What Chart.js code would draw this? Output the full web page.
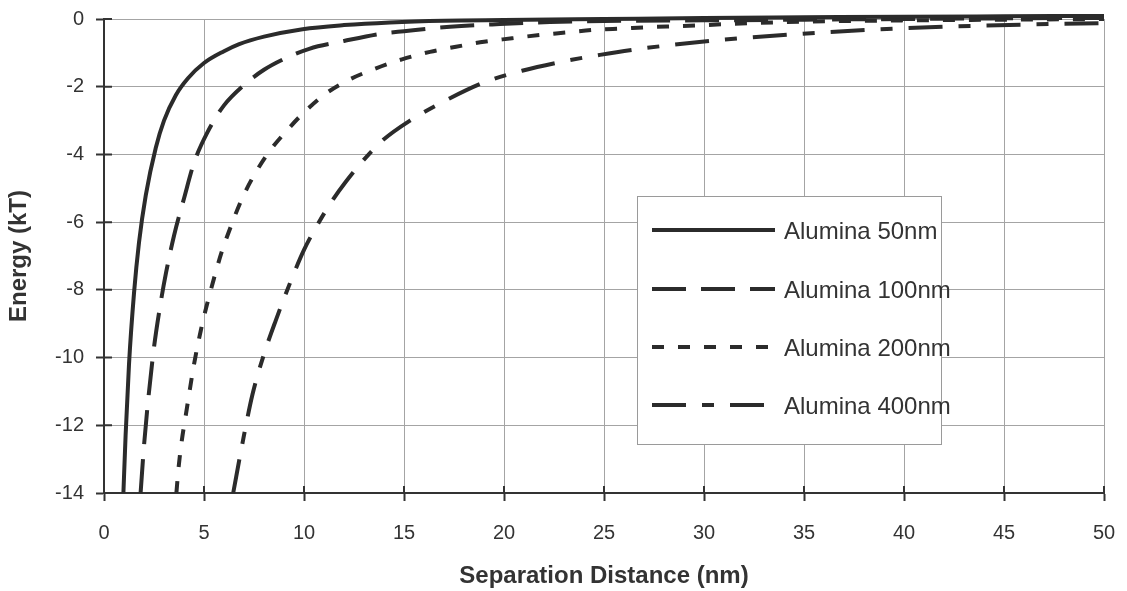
<!DOCTYPE html>
<html>
<head>
<meta charset="utf-8">
<script src="https://cdn.jsdelivr.net/npm/chart.js@4.4.1/dist/chart.umd.min.js"></script>
<style>
  html, body { margin: 0; padding: 0; background: #fff; }
  #wrap { width: 1127px; height: 591px; position: relative; }
</style>
</head>
<body>
<div id="wrap"><canvas id="chart_canvas"></canvas></div>
<script>
// valeurs
const xTicks = [0, 5, 10, 15, 20, 25, 30, 35, 40, 45, 50]
const yTicks = [0, -2, -4, -6, -8, -10, -12, -14]
const seriesNames = ['Alumina 50nm', 'Alumina 100nm', 'Alumina 200nm', 'Alumina 400nm']

const dist50 = [0.97, 1.08, 1.25, 1.5, 1.75, 2.09, 2.59, 3.0, 3.59, 4.2, 5.0, 6.0, 6.76, 8.0, 9.93, 12, 14.3, 17, 20, 25, 30, 35, 40, 45, 50]
const energy50 = [-14, -12.3, -10.2, -8.1, -6.6, -5.2, -3.8, -3.0, -2.25, -1.75, -1.3, -0.95, -0.74, -0.52, -0.3, -0.18, -0.1, -0.05, -0.03, 0, 0.03, 0.05, 0.07, 0.08, 0.09]

const dist100 = [1.83, 2.0, 2.2, 2.5, 2.8, 3.1, 3.5, 4.0, 4.5, 5.17, 6.0, 7.0, 8.0, 9.0, 10.26, 12.0, 13.9, 15, 17.3, 19.8, 22.3, 25, 30, 35, 40, 45, 50]
const energy100 = [-14, -12.6, -11.3, -9.7, -8.5, -7.5, -6.4, -5.3, -4.25, -3.35, -2.55, -1.95, -1.5, -1.18, -0.88, -0.65, -0.43, -0.36, -0.23, -0.15, -0.09, -0.06, -0.04, -0.02, 0, 0.02, 0.03]

const dist200 = [3.62, 3.72, 3.89, 4.09, 4.25, 4.5, 4.84, 5.12, 5.5, 5.89, 6.34, 6.84, 7.42, 8.26, 9.09, 9.93, 11.1, 12.3, 13.6, 14.9, 16.3, 17.6, 19.0, 20.4, 21.8, 23.1, 24.5, 25.9, 27.3, 28.7, 30, 32.3, 35, 40, 45, 50]
const energy200 = [-14, -13.3, -12.45, -11.7, -11.1, -10.2, -9.2, -8.5, -7.66, -6.87, -6.13, -5.39, -4.7, -3.92, -3.33, -2.8, -2.2, -1.78, -1.46, -1.19, -0.97, -0.82, -0.67, -0.57, -0.47, -0.4, -0.32, -0.28, -0.24, -0.21, -0.18, -0.12, -0.08, -0.04, -0.02, 0]

const dist400 = [6.46, 6.9, 7.42, 8.0, 8.59, 9.3, 10.0, 10.7, 11.43, 12.1, 12.9, 13.9, 15.3, 17.3, 19.1, 20.9, 22.9, 24.8, 26.8, 28.8, 30.8, 34.6, 38.6, 42.5, 46.5, 50]
const energy400 = [-14, -12.6, -11.1, -9.9, -8.9, -7.8, -6.82, -6.05, -5.35, -4.8, -4.22, -3.6, -3.0, -2.34, -1.85, -1.53, -1.26, -1.06, -0.88, -0.74, -0.62, -0.45, -0.31, -0.22, -0.16, -0.12]

const dashes = [[], [34, 15], [12, 14], [34, 16, 12, 16]]
const inkColor = '#2b2b2b'
const fontFamily = "'Liberation Sans', Arial, Helvetica, sans-serif"

function pts(xs, ys){
    return xs.map((x, i) => ({x: x, y: ys[i]}))
}

const allSeries = [pts(dist50, energy50), pts(dist100, energy100), pts(dist200, energy200), pts(dist400, energy400)]

// légende dessinée dans la zone du graphique
const boxLegend = {
    id: 'boxLegend',
    afterDraw(chart){
        const ctx = chart.ctx
        const left = 637, top = 196, w = 304, h = 248
        ctx.save()
        ctx.fillStyle = '#fff'
        ctx.fillRect(left, top, w, h)
        ctx.strokeStyle = '#9a9a9a'
        ctx.lineWidth = 1
        ctx.strokeRect(left + 0.5, top + 0.5, w, h)
        const rows = [230, 289, 347, 405]
        chart.data.datasets.forEach((ds, i) => {
            ctx.beginPath()
            ctx.setLineDash(ds.borderDash || [])
            ctx.strokeStyle = ds.borderColor
            ctx.lineWidth = ds.borderWidth
            ctx.moveTo(652, rows[i])
            ctx.lineTo(775, rows[i])
            ctx.stroke()
            ctx.setLineDash([])
            ctx.fillStyle = '#333'
            ctx.font = '24px ' + fontFamily
            ctx.textBaseline = 'middle'
            ctx.textAlign = 'left'
            ctx.fillText(ds.label, 784, rows[i] + 2)
        })
        ctx.restore()
    }
}

// petits traits de graduation à l'intérieur des axes
const innerTicks = {
    id: 'innerTicks',
    afterDatasetsDraw(chart){
        const ctx = chart.ctx
        const xs = chart.scales.x, ys = chart.scales.y
        ctx.save()
        ctx.strokeStyle = '#333'
        ctx.lineWidth = 2
        ctx.beginPath()
        yTicks.forEach(v => {
            const py = ys.getPixelForValue(v)
            ctx.moveTo(xs.left, py)
            ctx.lineTo(xs.left + 8, py)
        })
        xTicks.forEach(v => {
            const px = xs.getPixelForValue(v)
            ctx.moveTo(px, ys.bottom)
            ctx.lineTo(px, ys.bottom - 7)
        })
        ctx.stroke()
        ctx.restore()
    }
}

const data = {
    datasets: allSeries.map((s, i) => ({
        label: seriesNames[i],
        data: s,
        borderColor: inkColor,
        borderWidth: 4,
        borderDash: dashes[i],
        pointRadius: 0,
        cubicInterpolationMode: 'monotone',
        fill: false,
        clip: 8
    }))
}

const config = {
    type: 'line',
    data,
    options: {
        responsive: true,
        maintainAspectRatio: false,
        animation: false,
        layout: {
            padding: {left: 0, top: 19, right: 23, bottom: 0}
        },
        scales: {
            x: {
                type: 'linear',
                min: 0,
                max: 50,
                afterFit: (scale) => {
                    scale.height = 98
                    scale.paddingLeft = 0
                    scale.paddingRight = 0
                },
                afterBuildTicks: (scale) => { scale.ticks = xTicks.map(v => ({value: v})) },
                grid: {color: '#a4a4a4', lineWidth: 1, tickColor: '#333', tickLength: 8, tickWidth: 2},
                border: {color: '#333', width: 2},
                ticks: {
                    color: '#333',
                    padding: 20,
                    maxRotation: 0,
                    font: {family: fontFamily, size: 20}
                },
                title: {
                    display: true,
                    text: 'Separation Distance (nm)',
                    color: '#333',
                    padding: {top: 0, bottom: 0},
                    font: {family: fontFamily, size: 24, weight: 'bold'}
                }
            },
            y: {
                min: -14,
                max: 0,
                afterFit: (scale) => {
                    scale.width = 104
                    scale.paddingTop = 0
                    scale.paddingBottom = 0
                },
                afterBuildTicks: (scale) => { scale.ticks = yTicks.map(v => ({value: v})) },
                grid: {color: '#a4a4a4', lineWidth: 1, tickColor: '#333', tickLength: 8, tickWidth: 2},
                border: {color: '#333', width: 2},
                ticks: {
                    color: '#333',
                    padding: 12,
                    font: {family: fontFamily, size: 20}
                },
                title: {
                    display: true,
                    text: 'Energy (kT)',
                    color: '#333',
                    padding: {top: 5, bottom: 0},
                    font: {family: fontFamily, size: 24, weight: 'bold'}
                }
            }
        },
        plugins: {
            legend: {display: false},
            tooltip: {enabled: false}
        }
    },
    plugins: [innerTicks, boxLegend]
}

var myChart = new Chart(document.getElementById('chart_canvas').getContext('2d'), config)
</script>
</body>
</html>
